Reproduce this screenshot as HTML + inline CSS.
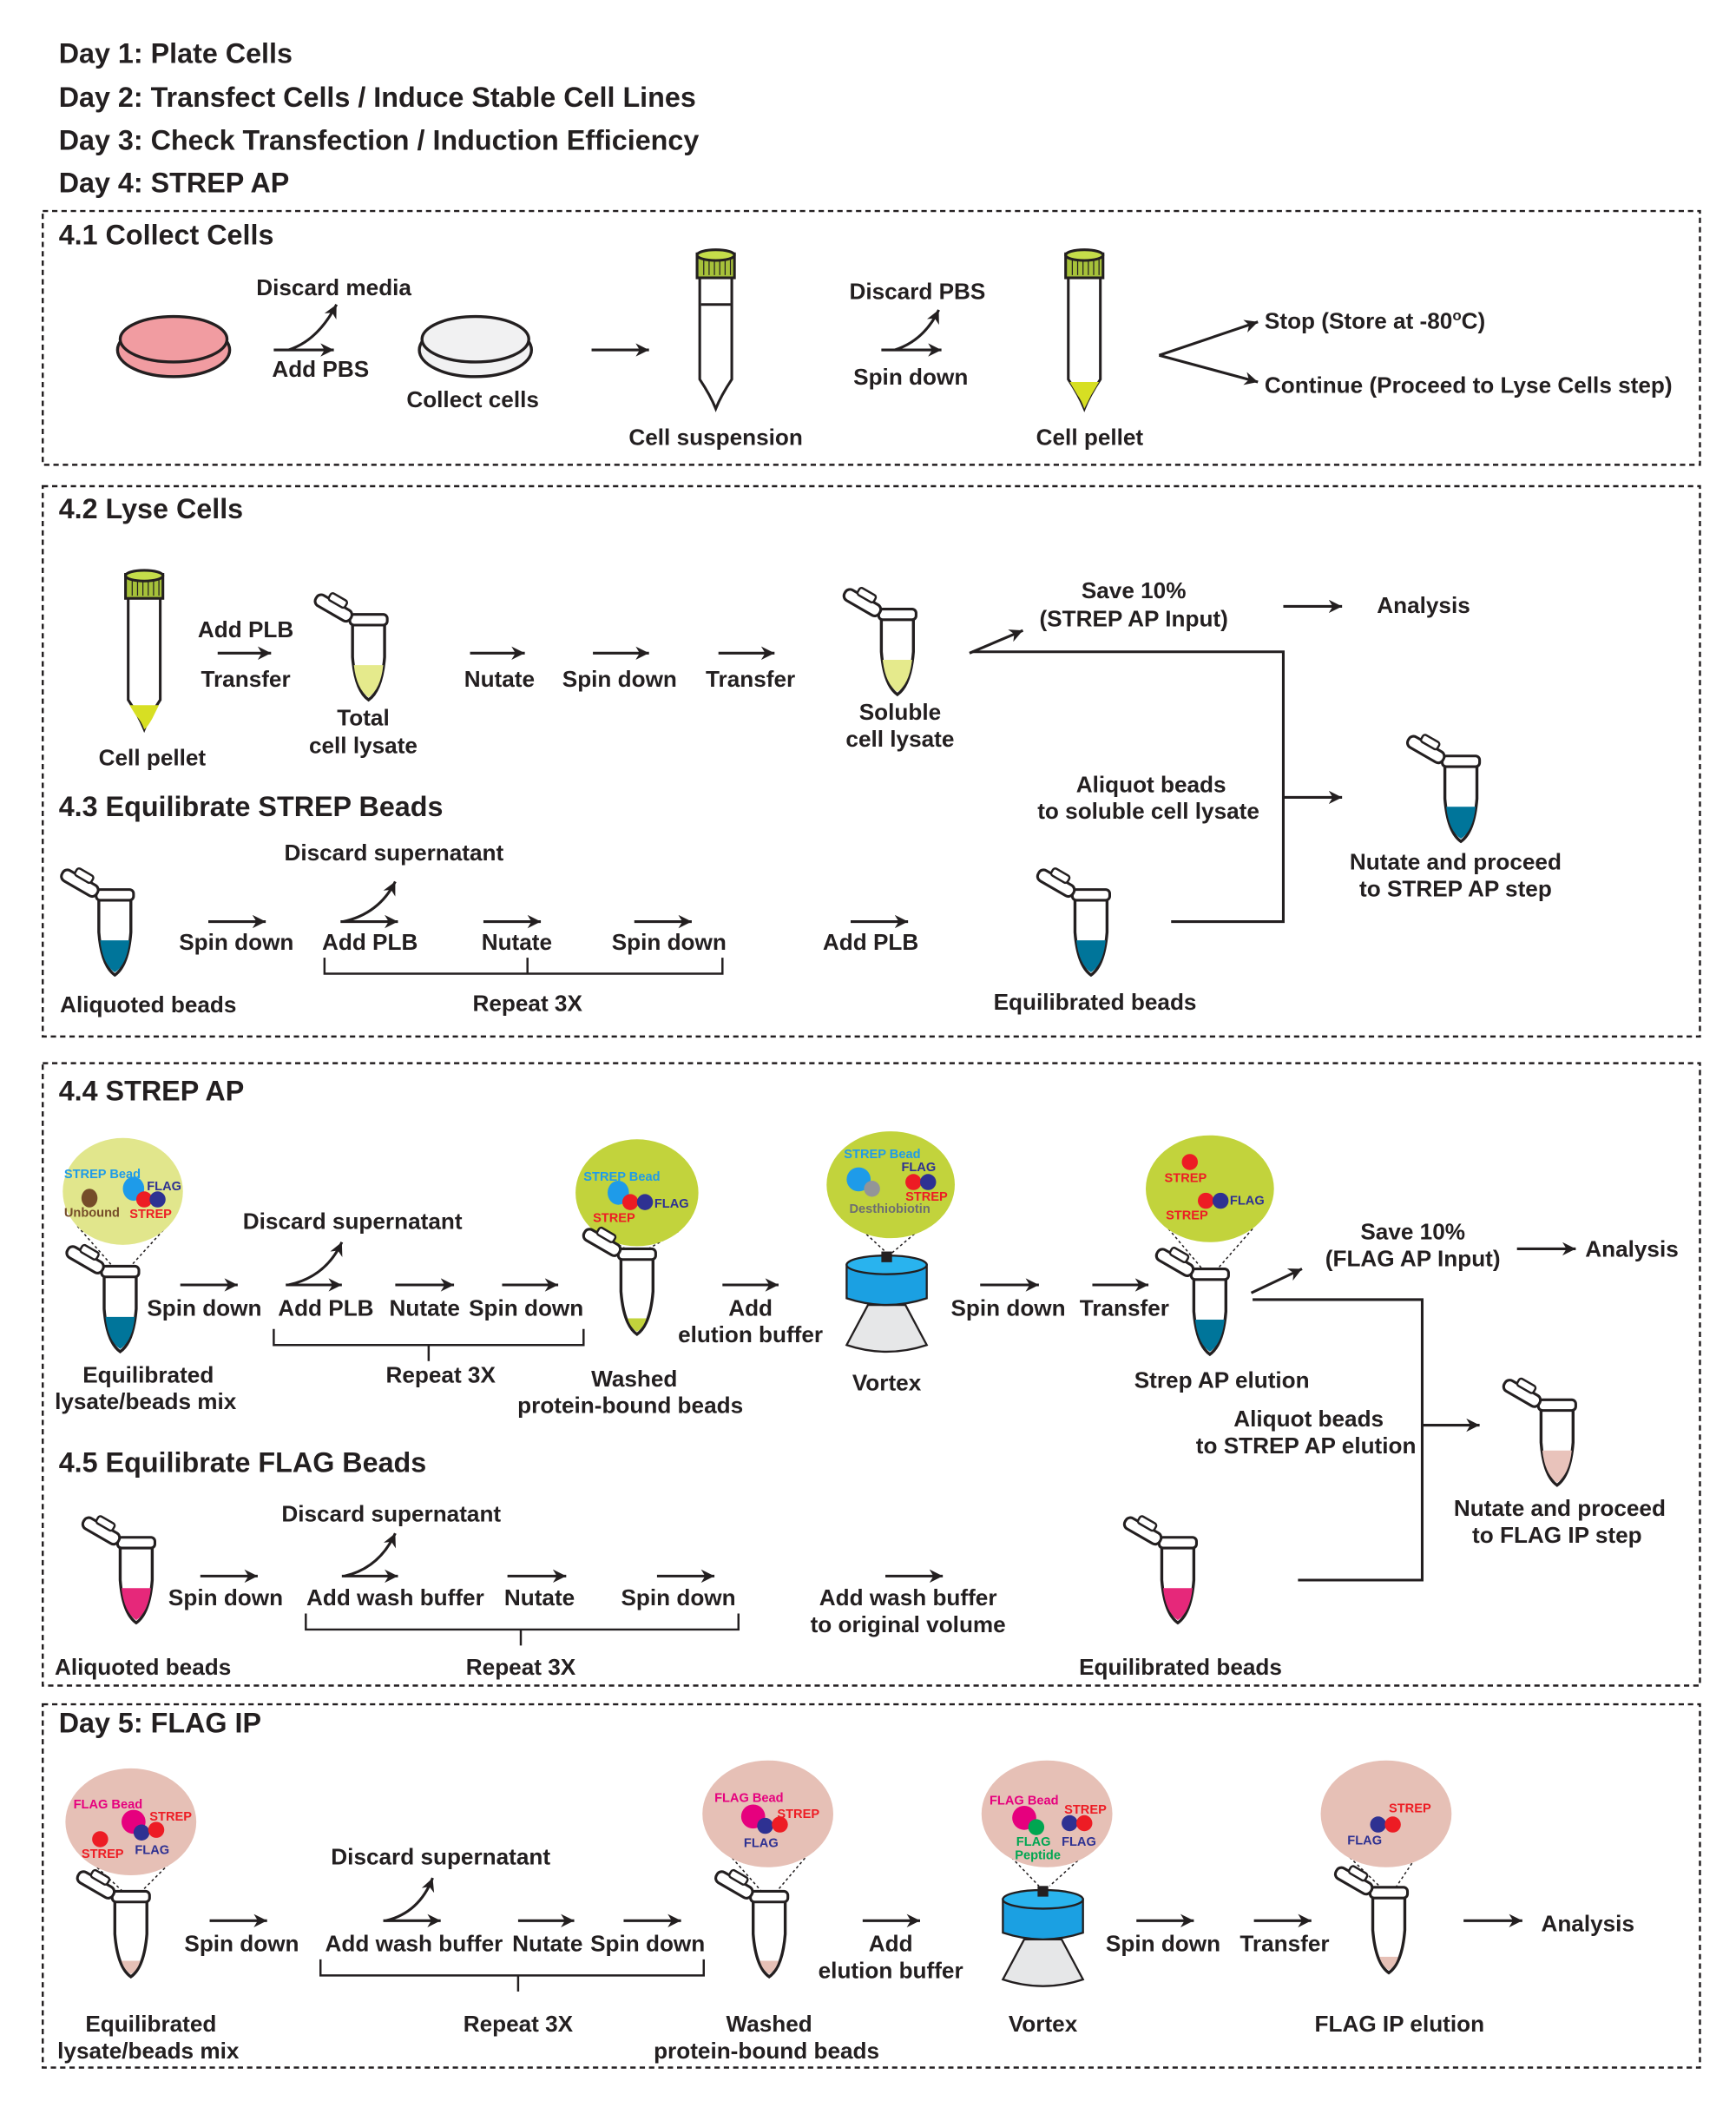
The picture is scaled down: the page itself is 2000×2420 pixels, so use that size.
<!DOCTYPE html>
<html><head><meta charset="utf-8"><style>
html,body{margin:0;padding:0;background:#fff}
svg{display:block}
text{font-family:"Liberation Sans",Arial,sans-serif;font-weight:bold;fill:#231f20}
.l{font-size:17px}
.m{text-anchor:middle}
.h{font-size:21px}
.s{font-size:9.5px}
.ln{stroke:#231f20;stroke-width:2;fill:none}
.box{fill:none;stroke:#231f20;stroke-width:1.6;stroke-dasharray:4 3}
.dot{stroke:#231f20;stroke-width:1;stroke-dasharray:2 2;fill:none}
</style></head><body>
<svg width="2000" height="2420" viewBox="0 0 1300 1573" xmlns="http://www.w3.org/2000/svg">
<defs>
<marker id="a" markerUnits="userSpaceOnUse" markerWidth="12" markerHeight="12" refX="10" refY="5" orient="auto"><path d="M0,0 L10,5 L0,10 L3,5 Z" fill="#231f20"/></marker>
<symbol id="mt" overflow="visible">
 <path d="M-12,4 L-12,30 Q-10,55 0,62 Q10,55 12,30 L12,4 Z" fill="#fff" stroke="#231f20" stroke-width="2.2"/>
 <path d="M-11,36 L11,36 Q9,54 0,60 Q-9,54 -11,36 Z" style="fill:var(--liq)"/>
 <rect x="-14" y="-2" width="28" height="8" rx="3" fill="#fff" stroke="#231f20" stroke-width="2"/>
 <g transform="rotate(30 -14 2)"><rect x="-44" y="-4" width="30" height="9" rx="4" fill="#fff" stroke="#231f20" stroke-width="2"/><rect x="-36" y="-9" width="14" height="6" rx="2" fill="#fff" stroke="#231f20" stroke-width="1.6"/></g>
</symbol>
<symbol id="mp" overflow="visible">
 <path d="M-12,4 L-12,30 Q-10,55 0,62 Q10,55 12,30 L12,4 Z" fill="#fff" stroke="#231f20" stroke-width="2.2"/>
 <path d="M-7,50 L7,50 Q5,57 0,60 Q-5,57 -7,50 Z" style="fill:var(--liq)"/>
 <rect x="-14" y="-2" width="28" height="8" rx="3" fill="#fff" stroke="#231f20" stroke-width="2"/>
 <g transform="rotate(30 -14 2)"><rect x="-44" y="-4" width="30" height="9" rx="4" fill="#fff" stroke="#231f20" stroke-width="2"/><rect x="-36" y="-9" width="14" height="6" rx="2" fill="#fff" stroke="#231f20" stroke-width="1.6"/></g>
</symbol>
<symbol id="bt" overflow="visible">
 <path d="M-12,18 L-12,96 Q-4,108 0,118 Q4,108 12,96 L12,18 Z" fill="#fff" stroke="#231f20" stroke-width="2"/>
 <rect x="-14" y="2" width="28" height="18" fill="#a6c13a" stroke="#231f20" stroke-width="2"/>
 <path d="M-9,5 V18 M-5,5 V18 M-1,5 V18 M3,5 V18 M7,5 V18 M11,5 V18" stroke="#231f20" stroke-width="0.8"/>
 <ellipse cx="0" cy="3" rx="14" ry="4" fill="#c5dd4a" stroke="#231f20" stroke-width="2"/>
</symbol>
<symbol id="vx" overflow="visible">
 <path d="M-14,30 L-30,60 Q0,70 30,60 L14,30 Z" fill="#e6e7e8" stroke="#231f20" stroke-width="1.5"/>
 <path d="M-30,0 L-30,25 Q0,35 30,25 L30,0 Z" fill="#1ba0e2" stroke="#231f20" stroke-width="1.5"/>
 <ellipse cx="0" cy="0" rx="30" ry="7" fill="#29b3ee" stroke="#231f20" stroke-width="1.5"/>
 <rect x="-4" y="-10" width="8" height="8" fill="#231f20"/>
</symbol>
</defs>

<text class="h" x="44" y="47">Day 1: Plate Cells</text>
<text class="h" x="44" y="80">Day 2: Transfect Cells / Induce Stable Cell Lines</text>
<text class="h" x="44" y="112">Day 3: Check Transfection / Induction Efficiency</text>
<text class="h" x="44" y="144">Day 4: STREP AP</text>

<!-- 4.1 -->
<rect class="box" x="32" y="158" width="1241" height="190"/>
<text class="h" x="44" y="183">4.1 Collect Cells</text>
<ellipse cx="130" cy="262" rx="42" ry="20" fill="#f19ca1" stroke="#231f20" stroke-width="2.2"/>
<ellipse cx="130" cy="254" rx="40" ry="17" fill="#f19ca1" stroke="#231f20" stroke-width="2.2"/>
<ellipse cx="356" cy="262" rx="42" ry="20" fill="#f1f1f2" stroke="#231f20" stroke-width="2.2"/>
<ellipse cx="356" cy="254" rx="40" ry="17" fill="#f1f1f2" stroke="#231f20" stroke-width="2.2"/>
<text class="l m" x="250" y="221">Discard media</text>
<line class="ln" x1="205" y1="262" x2="250" y2="262" marker-end="url(#a)"/>
<path class="ln" d="M216,262 Q238,255 252,228" marker-end="url(#a)"/>
<text class="l m" x="240" y="282">Add PBS</text>
<text class="l m" x="354" y="305">Collect cells</text>
<line class="ln" x1="443" y1="262" x2="486" y2="262" marker-end="url(#a)"/>
<use href="#bt" x="536" y="188"/>
<line x1="525" y1="228" x2="547" y2="228" stroke="#231f20" stroke-width="2"/>
<text class="l m" x="536" y="333">Cell suspension</text>
<text class="l m" x="687" y="224">Discard PBS</text>
<line class="ln" x1="660" y1="262" x2="705" y2="262" marker-end="url(#a)"/>
<path class="ln" d="M670,262 Q692,255 703,232" marker-end="url(#a)"/>
<text class="l m" x="682" y="288">Spin down</text>
<use href="#bt" x="812" y="188"/>
<path d="M801,286 L823,286 L817,296 Q813,304 812,306 Q810,300 807,296 Z" fill="#d7df23"/>
<text class="l m" x="816" y="333">Cell pellet</text>
<line class="ln" x1="868" y1="266" x2="942" y2="241" marker-end="url(#a)"/>
<line class="ln" x1="868" y1="266" x2="942" y2="286" marker-end="url(#a)"/>
<text class="l" x="947" y="246">Stop (Store at -80<tspan dy="-6" font-size="11">o</tspan><tspan dy="6">C)</tspan></text>
<text class="l" x="947" y="294">Continue (Proceed to Lyse Cells step)</text>

<!-- 4.2 / 4.3 -->
<rect class="box" x="32" y="364" width="1241" height="412"/>
<text class="h" x="44" y="388">4.2 Lyse Cells</text>
<use href="#bt" x="108" y="428"/>
<path d="M97,528 L119,528 L114,538 Q110,545 108,546 Q106,540 102,536 Z" fill="#d7df23"/>
<text class="l m" x="114" y="573">Cell pellet</text>
<text class="l m" x="184" y="477">Add PLB</text>
<line class="ln" x1="163" y1="489" x2="203" y2="489" marker-end="url(#a)"/>
<text class="l m" x="184" y="514">Transfer</text>
<use href="#mt" x="276" y="462" style="--liq:#e5ea8c"/>
<text class="l m" x="272" y="543">Total</text>
<text class="l m" x="272" y="564">cell lysate</text>
<line class="ln" x1="352" y1="489" x2="393" y2="489" marker-end="url(#a)"/>
<text class="l m" x="374" y="514">Nutate</text>
<line class="ln" x1="444" y1="489" x2="486" y2="489" marker-end="url(#a)"/>
<text class="l m" x="464" y="514">Spin down</text>
<line class="ln" x1="538" y1="489" x2="580" y2="489" marker-end="url(#a)"/>
<text class="l m" x="562" y="514">Transfer</text>
<use href="#mt" x="672" y="458" style="--liq:#e5ea8c"/>
<text class="l m" x="674" y="539">Soluble</text>
<text class="l m" x="674" y="559">cell lysate</text>
<line class="ln" x1="726" y1="489" x2="766" y2="472" marker-end="url(#a)"/>
<text class="l m" x="849" y="448">Save 10%</text>
<text class="l m" x="849" y="469">(STREP AP Input)</text>
<line class="ln" x1="961" y1="454" x2="1005" y2="454" marker-end="url(#a)"/>
<text class="l m" x="1066" y="459">Analysis</text>
<path class="ln" d="M728,488 H961 V690 H877"/>
<line class="ln" x1="961" y1="597" x2="1005" y2="597" marker-end="url(#a)"/>
<text class="l m" x="862" y="593">Aliquot beads</text>
<text class="l m" x="860" y="613">to soluble cell lysate</text>
<use href="#mt" x="1094" y="568" style="--liq:#00759a"/>
<text class="l m" x="1090" y="651">Nutate and proceed</text>
<text class="l m" x="1090" y="671">to STREP AP step</text>

<text class="h" x="44" y="611">4.3 Equilibrate STREP Beads</text>
<text class="l m" x="295" y="644">Discard supernatant</text>
<use href="#mt" x="86" y="668" style="--liq:#00759a"/>
<text class="l m" x="111" y="758">Aliquoted beads</text>
<line class="ln" x1="156" y1="690" x2="199" y2="690" marker-end="url(#a)"/>
<text class="l m" x="177" y="711">Spin down</text>
<line class="ln" x1="255" y1="690" x2="298" y2="690" marker-end="url(#a)"/>
<path class="ln" d="M257,690 Q284,684 296,660" marker-end="url(#a)"/>
<text class="l m" x="277" y="711">Add PLB</text>
<line class="ln" x1="362" y1="690" x2="405" y2="690" marker-end="url(#a)"/>
<text class="l m" x="387" y="711">Nutate</text>
<line class="ln" x1="475" y1="690" x2="518" y2="690" marker-end="url(#a)"/>
<text class="l m" x="501" y="711">Spin down</text>
<path class="ln" style="stroke-width:1.6" d="M243,717 V729 H541 V717 M395,729 V717"/>
<text class="l m" x="395" y="757">Repeat 3X</text>
<line class="ln" x1="637" y1="690" x2="680" y2="690" marker-end="url(#a)"/>
<text class="l m" x="652" y="711">Add PLB</text>
<use href="#mt" x="817" y="668" style="--liq:#00759a"/>
<text class="l m" x="820" y="756">Equilibrated beads</text>

<!-- 4.4 / 4.5 -->
<rect class="box" x="32" y="796" width="1241" height="466"/>
<text class="h" x="44" y="824">4.4 STREP AP</text>
<path class="dot" d="M58,918 L86,950 M125,918 L96,950"/>
<ellipse cx="92" cy="892" rx="45" ry="40" fill="#e1e68c"/>
<text class="s" x="48" y="882" style="fill:#1e9be9">STREP Bead</text>
<ellipse cx="67" cy="897" rx="6" ry="7" fill="#754c29"/>
<ellipse cx="100" cy="890" rx="8" ry="9" fill="#1e9be9"/>
<circle cx="108" cy="898" r="6" fill="#ed1c24"/><circle cx="118" cy="898" r="6" fill="#2e3192"/>
<text class="s" x="110" y="891" style="fill:#2e3192">FLAG</text>
<text class="s" x="48" y="911" style="fill:#754c29">Unbound</text>
<text class="s" x="97" y="912" style="fill:#ed1c24">STREP</text>
<use href="#mt" x="90" y="950" style="--liq:#00759a"/>
<line class="ln" x1="135" y1="962" x2="178" y2="962" marker-end="url(#a)"/>
<text class="l m" x="153" y="985">Spin down</text>
<text class="l m" x="264" y="920">Discard supernatant</text>
<line class="ln" x1="214" y1="962" x2="256" y2="962" marker-end="url(#a)"/>
<path class="ln" d="M216,962 Q244,956 256,930" marker-end="url(#a)"/>
<text class="l m" x="244" y="985">Add PLB</text>
<line class="ln" x1="296" y1="962" x2="340" y2="962" marker-end="url(#a)"/>
<text class="l m" x="318" y="985">Nutate</text>
<line class="ln" x1="376" y1="962" x2="418" y2="962" marker-end="url(#a)"/>
<text class="l m" x="394" y="985">Spin down</text>
<path class="ln" style="stroke-width:1.6" d="M205,995 V1007 H437 V995 M321,1007 V1019"/>
<text class="l m" x="330" y="1035">Repeat 3X</text>
<text class="l m" x="111" y="1035">Equilibrated</text>
<text class="l m" x="109" y="1055">lysate/beads mix</text>
<path class="dot" d="M446,922 L472,937 M508,922 L482,937"/>
<ellipse cx="477" cy="893" rx="46" ry="40" fill="#c2d33c"/>
<text class="s" x="437" y="884" style="fill:#1e9be9">STREP Bead</text>
<ellipse cx="463" cy="893" rx="8" ry="9" fill="#1e9be9"/>
<circle cx="472" cy="900" r="6" fill="#ed1c24"/><circle cx="483" cy="900" r="6" fill="#2e3192"/>
<text class="s" x="490" y="904" style="fill:#2e3192">FLAG</text>
<text class="s" x="444" y="915" style="fill:#ed1c24">STREP</text>
<use href="#mp" x="477" y="937" style="--liq:#c2d33c"/>
<text class="l m" x="475" y="1038">Washed</text>
<text class="l m" x="472" y="1058">protein-bound beads</text>
<line class="ln" x1="541" y1="962" x2="583" y2="962" marker-end="url(#a)"/>
<text class="l m" x="562" y="985">Add</text>
<text class="l m" x="562" y="1005">elution buffer</text>
<path class="dot" d="M640,916 L664,938 M694,916 L668,938"/>
<ellipse cx="667" cy="887" rx="48" ry="40" fill="#c2d33c"/>
<text class="s" x="632" y="867" style="fill:#1e9be9">STREP Bead</text>
<circle cx="643" cy="883" r="9" fill="#1e9be9"/><circle cx="653" cy="890" r="6" fill="#939598"/>
<circle cx="684" cy="885" r="6" fill="#ed1c24"/><circle cx="695" cy="885" r="6" fill="#2e3192"/>
<text class="s" x="675" y="877" style="fill:#2e3192">FLAG</text>
<text class="s" x="678" y="899" style="fill:#ed1c24">STREP</text>
<text class="s" x="636" y="908" style="fill:#6d6e71">Desthiobiotin</text>
<use href="#vx" x="664" y="947"/>
<text class="l m" x="664" y="1041">Vortex</text>
<line class="ln" x1="734" y1="962" x2="778" y2="962" marker-end="url(#a)"/>
<text class="l m" x="755" y="985">Spin down</text>
<line class="ln" x1="818" y1="962" x2="860" y2="962" marker-end="url(#a)"/>
<text class="l m" x="842" y="985">Transfer</text>
<path class="dot" d="M875,920 L902,952 M938,920 L910,952"/>
<ellipse cx="906" cy="890" rx="48" ry="40" fill="#c2d33c"/>
<circle cx="891" cy="870" r="6" fill="#ed1c24"/>
<text class="s" x="872" y="885" style="fill:#ed1c24">STREP</text>
<circle cx="903" cy="899" r="6" fill="#ed1c24"/><circle cx="914" cy="899" r="6" fill="#2e3192"/>
<text class="s" x="921" y="902" style="fill:#2e3192">FLAG</text>
<text class="s" x="873" y="913" style="fill:#ed1c24">STREP</text>
<use href="#mt" x="906" y="952" style="--liq:#00759a"/>
<text class="l m" x="915" y="1039">Strep AP elution</text>
<line class="ln" x1="937" y1="968" x2="975" y2="950" marker-end="url(#a)"/>
<text class="l m" x="1058" y="928">Save 10%</text>
<text class="l m" x="1058" y="948">(FLAG AP Input)</text>
<line class="ln" x1="1136" y1="935" x2="1180" y2="935" marker-end="url(#a)"/>
<text class="l m" x="1222" y="941">Analysis</text>
<path class="ln" d="M938,973 H1065 V1183 H972"/>
<line class="ln" x1="1065" y1="1067" x2="1108" y2="1067" marker-end="url(#a)"/>
<text class="l m" x="980" y="1068">Aliquot beads</text>
<text class="l m" x="978" y="1088">to STREP AP elution</text>
<use href="#mt" x="1166" y="1050" style="--liq:#e9c3bb"/>
<text class="l m" x="1168" y="1135">Nutate and proceed</text>
<text class="l m" x="1166" y="1155">to FLAG IP step</text>

<text class="h" x="44" y="1102">4.5 Equilibrate FLAG Beads</text>
<text class="l m" x="293" y="1139">Discard supernatant</text>
<use href="#mt" x="102" y="1153" style="--liq:#e6287a"/>
<line class="ln" x1="150" y1="1180" x2="193" y2="1180" marker-end="url(#a)"/>
<text class="l m" x="169" y="1202">Spin down</text>
<line class="ln" x1="256" y1="1180" x2="298" y2="1180" marker-end="url(#a)"/>
<path class="ln" d="M258,1180 Q284,1174 296,1148" marker-end="url(#a)"/>
<text class="l m" x="296" y="1202">Add wash buffer</text>
<line class="ln" x1="380" y1="1180" x2="424" y2="1180" marker-end="url(#a)"/>
<text class="l m" x="404" y="1202">Nutate</text>
<line class="ln" x1="492" y1="1180" x2="535" y2="1180" marker-end="url(#a)"/>
<text class="l m" x="508" y="1202">Spin down</text>
<path class="ln" style="stroke-width:1.6" d="M229,1208 V1220 H553 V1208 M390,1220 V1232"/>
<text class="l m" x="390" y="1254">Repeat 3X</text>
<text class="l m" x="107" y="1254">Aliquoted beads</text>
<line class="ln" x1="663" y1="1180" x2="706" y2="1180" marker-end="url(#a)"/>
<text class="l m" x="680" y="1202">Add wash buffer</text>
<text class="l m" x="680" y="1222">to original volume</text>
<use href="#mt" x="882" y="1153" style="--liq:#e6287a"/>
<text class="l m" x="884" y="1254">Equilibrated beads</text>

<!-- Day 5 -->
<rect class="box" x="32" y="1276" width="1241" height="272"/>
<text class="h" x="44" y="1297">Day 5: FLAG IP</text>
<path class="dot" d="M64,1390 L94,1418 M132,1390 L104,1418"/>
<ellipse cx="98" cy="1364" rx="49" ry="40" fill="#e6c0b6"/>
<text class="s" x="55" y="1354" style="fill:#e6007e">FLAG Bead</text>
<circle cx="100" cy="1364" r="9" fill="#e6007e"/>
<circle cx="106" cy="1372" r="6" fill="#2e3192"/><circle cx="117" cy="1370" r="6" fill="#ed1c24"/>
<text class="s" x="112" y="1363" style="fill:#ed1c24">STREP</text>
<circle cx="75" cy="1377" r="6" fill="#ed1c24"/>
<text class="s" x="61" y="1391" style="fill:#ed1c24">STREP</text>
<text class="s" x="101" y="1388" style="fill:#2e3192">FLAG</text>
<use href="#mp" x="98" y="1418" style="--liq:#e6c0b6"/>
<line class="ln" x1="157" y1="1438" x2="200" y2="1438" marker-end="url(#a)"/>
<text class="l m" x="181" y="1461">Spin down</text>
<text class="l m" x="330" y="1396">Discard supernatant</text>
<line class="ln" x1="287" y1="1438" x2="330" y2="1438" marker-end="url(#a)"/>
<path class="ln" d="M289,1438 Q314,1432 324,1406" marker-end="url(#a)"/>
<text class="l m" x="310" y="1461">Add wash buffer</text>
<line class="ln" x1="388" y1="1438" x2="430" y2="1438" marker-end="url(#a)"/>
<text class="l m" x="410" y="1461">Nutate</text>
<line class="ln" x1="467" y1="1438" x2="510" y2="1438" marker-end="url(#a)"/>
<text class="l m" x="485" y="1461">Spin down</text>
<path class="ln" style="stroke-width:1.6" d="M240,1467 V1479 H527 V1467 M388,1479 V1491"/>
<text class="l m" x="388" y="1521">Repeat 3X</text>
<text class="l m" x="113" y="1521">Equilibrated</text>
<text class="l m" x="111" y="1541">lysate/beads mix</text>
<path class="dot" d="M543,1385 L572,1418 M608,1385 L580,1418"/>
<ellipse cx="575" cy="1358" rx="49" ry="40" fill="#e6c0b6"/>
<text class="s" x="535" y="1349" style="fill:#e6007e">FLAG Bead</text>
<circle cx="564" cy="1360" r="9" fill="#e6007e"/>
<circle cx="573" cy="1367" r="6" fill="#2e3192"/><circle cx="584" cy="1366" r="6" fill="#ed1c24"/>
<text class="s" x="582" y="1361" style="fill:#ed1c24">STREP</text>
<text class="s" x="557" y="1383" style="fill:#2e3192">FLAG</text>
<use href="#mp" x="576" y="1418" style="--liq:#e6c0b6"/>
<text class="l m" x="576" y="1521">Washed</text>
<text class="l m" x="574" y="1541">protein-bound beads</text>
<line class="ln" x1="646" y1="1438" x2="689" y2="1438" marker-end="url(#a)"/>
<text class="l m" x="667" y="1461">Add</text>
<text class="l m" x="667" y="1481">elution buffer</text>
<path class="dot" d="M752,1385 L778,1412 M816,1385 L786,1412"/>
<ellipse cx="784" cy="1358" rx="49" ry="40" fill="#e6c0b6"/>
<text class="s" x="741" y="1351" style="fill:#e6007e">FLAG Bead</text>
<circle cx="767" cy="1361" r="9" fill="#e6007e"/><circle cx="776" cy="1368" r="6" fill="#00a651"/>
<circle cx="801" cy="1365" r="6" fill="#2e3192"/><circle cx="812" cy="1365" r="6" fill="#ed1c24"/>
<text class="s" x="797" y="1358" style="fill:#ed1c24">STREP</text>
<text class="s" x="761" y="1382" style="fill:#00a651">FLAG</text>
<text class="s" x="760" y="1392" style="fill:#00a651">Peptide</text>
<text class="s" x="795" y="1382" style="fill:#2e3192">FLAG</text>
<use href="#vx" x="781" y="1422"/>
<text class="l m" x="781" y="1521">Vortex</text>
<line class="ln" x1="851" y1="1438" x2="894" y2="1438" marker-end="url(#a)"/>
<text class="l m" x="871" y="1461">Spin down</text>
<line class="ln" x1="939" y1="1438" x2="982" y2="1438" marker-end="url(#a)"/>
<text class="l m" x="962" y="1461">Transfer</text>
<path class="dot" d="M1005,1385 L1036,1415 M1064,1385 L1044,1415"/>
<ellipse cx="1038" cy="1358" rx="49" ry="40" fill="#e6c0b6"/>
<circle cx="1032" cy="1366" r="6" fill="#2e3192"/><circle cx="1043" cy="1366" r="6" fill="#ed1c24"/>
<text class="s" x="1040" y="1357" style="fill:#ed1c24">STREP</text>
<text class="s" x="1009" y="1381" style="fill:#2e3192">FLAG</text>
<use href="#mp" x="1040" y="1415" style="--liq:#e6c0b6"/>
<text class="l m" x="1048" y="1521">FLAG IP elution</text>
<line class="ln" x1="1096" y1="1438" x2="1140" y2="1438" marker-end="url(#a)"/>
<text class="l m" x="1189" y="1446">Analysis</text>
</svg>
</body></html>
